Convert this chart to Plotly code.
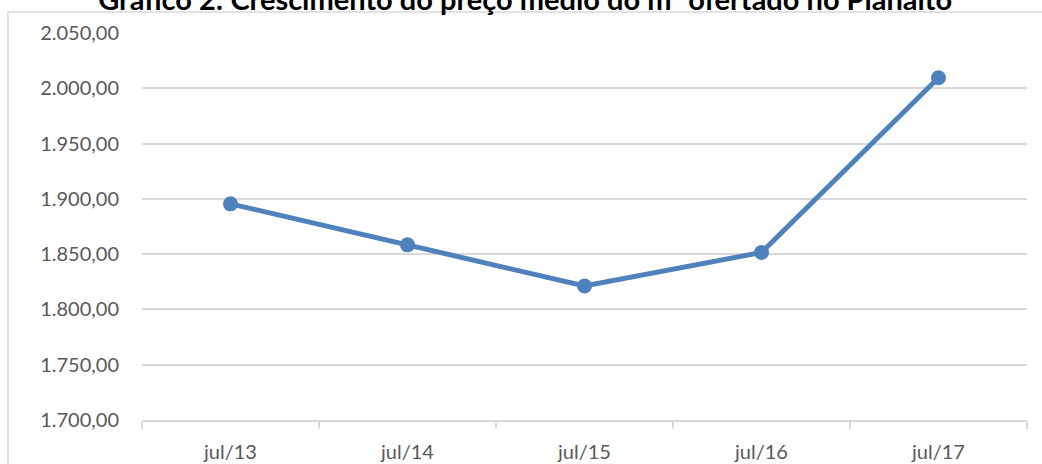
import plotly.graph_objects as go

categories = ["jul/13", "jul/14", "jul/15", "jul/16", "jul/17"]
precos = [1895.5, 1858.4, 1821.2, 1851.5, 2009.5]
y_ticks = [1700, 1750, 1800, 1850, 1900, 1950, 2000, 2050]

FONT = "Lato, 'Open Sans', sans-serif"
GRID = "#d9d9d9"

fig = go.Figure()
fig.add_trace(go.Scatter(
    x=categories, y=precos, mode="lines+markers",
    line=dict(color="#4f81bd", width=5),
    marker=dict(color="#4f81bd", size=15),
    hoverinfo="x+y",
))

L, R, T, B = 142, 15, 33, 44
W, H = 1042, 464
pw, ph = W - L - R, H - T - B

fig.update_layout(
    width=W, height=H,
    margin=dict(l=L, r=R, t=T, b=B, autoexpand=False),
    paper_bgcolor="white", plot_bgcolor="white",
    showlegend=False,
    separators=",.",
    font=dict(family=FONT, color="#595959", size=20),
    title=dict(
        text="<b>Gráfico 2: Crescimento do preço médio do m² ofertado no Planalto</b>",
        x=0.504, xanchor="center", xref="container",
        y=1.0, yanchor="middle", yref="container",
        font=dict(family=FONT, size=29, color="#000000"),
        automargin=False,
    ),
    xaxis=dict(
        type="category", range=[-0.5, 4.5], automargin=False,
        showgrid=False, showline=True, linecolor=GRID, linewidth=1.5,
        ticks="outside", tickson="boundaries", ticklen=7, tickcolor=GRID, tickwidth=1.5,
        ticklabelstandoff=13,
        tickfont=dict(family=FONT, size=20, color="#595959"),
        fixedrange=True,
    ),
    yaxis=dict(
        range=[1700, 2050], tickvals=y_ticks, tickformat=",.2f", automargin=False,
        showgrid=True, gridcolor=GRID, gridwidth=1.5,
        zeroline=False, showline=False, ticks="",
        ticklabelstandoff=22,
        tickfont=dict(family=FONT, size=20, color="#595959"),
        fixedrange=True,
    ),
)

# outer chart-area border (partially cropped in the reference)
fig.add_shape(
    type="rect", xref="paper", yref="paper",
    x0=(8 - L) / pw, x1=(W + 10 - L) / pw,
    y0=-(B + 10) / ph, y1=(H - B - 12) / ph,
    line=dict(color=GRID, width=1.5), fillcolor="rgba(0,0,0,0)", layer="below",
)

fig.write_html(
    "out.html",
    config={"displayModeBar": False},
    post_script="document.body.style.margin='0px';document.body.style.overflow='hidden';",
)
